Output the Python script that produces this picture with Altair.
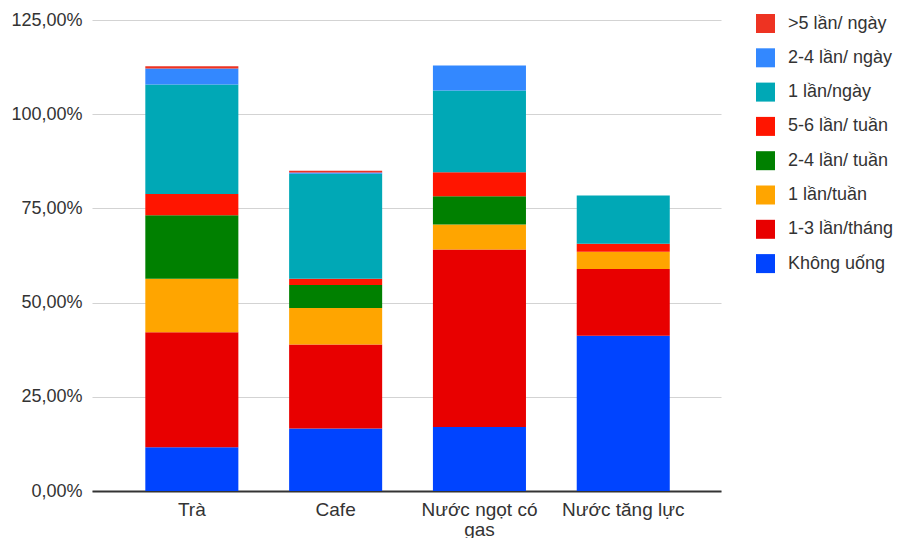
import altair as alt
import pandas as pd

categories = ["Trà", "Cafe", "Nước ngọt có gas", "Nước tăng lực"]

# series in stacking order (bottom -> top), values in percent
series_names = [
    "Không uống",
    "1-3 lần/tháng",
    "1 lần/tuần",
    "2-4 lần/ tuần",
    "5-6 lần/ tuần",
    "1 lần/ngày",
    "2-4 lần/ ngày",
    ">5 lần/ ngày",
]
khong_uong = [11.6, 16.6, 17.0, 41.2]
mot_ba_thang = [30.5, 22.3, 47.1, 17.7]
mot_tuan = [14.2, 9.7, 6.6, 4.6]
hai_bon_tuan = [16.9, 6.1, 7.5, 0.0]
nam_sau_tuan = [5.6, 1.6, 6.4, 2.1]
mot_ngay = [29.1, 27.9, 21.7, 12.8]
hai_bon_ngay = [4.2, 0.3, 6.6, 0.0]
tren_nam_ngay = [0.6, 0.5, 0.0, 0.0]

series_values = [khong_uong, mot_ba_thang, mot_tuan, hai_bon_tuan,
                 nam_sau_tuan, mot_ngay, hai_bon_ngay, tren_nam_ngay]
series_colors = ["#0044ff", "#e80000", "#ffa500", "#008000",
                 "#ff1500", "#00a8b6", "#3388ff", "#ee3322"]

legend_order = list(reversed(series_names))
legend_colors = list(reversed(series_colors))

y_ticks = [0, 25, 50, 75, 100, 125]

rows = []
for si, (name, vals) in enumerate(zip(series_names, series_values)):
    for cat, v in zip(categories, vals):
        rows.append({"cat": cat, "series": name, "value": v, "order": si})
df = pd.DataFrame(rows)

FONT = "Liberation Sans"

chart = alt.Chart(df).mark_bar(strokeWidth=0).encode(
    x=alt.X("cat:N", sort=categories, title=None,
            scale=alt.Scale(paddingInner=0.353, paddingOuter=0.3635, align=0.51),
            axis=alt.Axis(labelAngle=0, ticks=False, domainColor="#333333",
                          domainWidth=2, labelFont=FONT, labelFontSize=19,
                          labelColor="#333333", labelPadding=9,
                          labelLineHeight=20,
                          labelExpr="datum.value == 'Nước ngọt có gas' ? ['Nước ngọt có', 'gas'] : datum.value")),
    y=alt.Y("value:Q", stack="zero", title=None,
            scale=alt.Scale(domain=[0, 125], nice=False, zero=True),
            axis=alt.Axis(values=y_ticks, domain=False, ticks=False,
                          gridColor="#d3d3d3", gridWidth=1,
                          labelFont=FONT, labelFontSize=18,
                          labelColor="#333333", labelPadding=10,
                          labelExpr="replace(format(datum.value, '.2f'), '.', ',') + '%'")),
    color=alt.Color("series:N", title=None,
                    scale=alt.Scale(domain=legend_order, range=legend_colors),
                    legend=alt.Legend(orient="none", legendX=664, legendY=-6,
                                      symbolType="square", symbolSize=361,
                                      symbolStrokeWidth=0, symbolOpacity=1,
                                      labelFont=FONT, labelFontSize=18,
                                      labelColor="#333333", labelOffset=13,
                                      rowPadding=15.3, labelLimit=200)),
    order=alt.Order("order:Q", sort="ascending"),
).properties(
    width=629, height=471,
    autosize=alt.AutoSizeParams(type="none"),
    padding={"left": 92, "top": 20, "right": 179, "bottom": 47},
).configure_view(stroke=None)

chart.save("out.html", embed_options={"renderer": "svg", "actions": False})
